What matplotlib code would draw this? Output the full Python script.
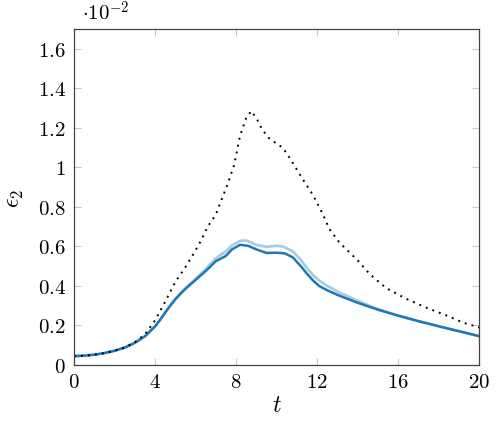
import matplotlib
matplotlib.use('Agg')
import matplotlib.pyplot as plt

plt.rcParams['mathtext.fontset'] = 'cm'
plt.rcParams['font.family'] = 'serif'
plt.rcParams['font.serif'] = ['cmr10', 'DejaVu Serif']

# epsilon_2 values, in units of 1e-2
t_dark = [0, 0.5, 1, 1.5, 2, 2.5, 3, 3.5, 4, 4.25, 4.5, 4.75, 5, 5.25, 5.5, 6, 6.5, 7,
          7.5, 7.8, 8.2, 8.6, 9, 9.5, 10, 10.4, 10.8, 11.2, 11.5, 11.8, 12.1, 12.5, 13,
          14, 15, 16, 17, 18, 19, 20]
eps_dark = [0.045, 0.047, 0.052, 0.06, 0.072, 0.088, 0.112, 0.145, 0.195, 0.228, 0.265,
            0.3, 0.332, 0.36, 0.385, 0.43, 0.475, 0.525, 0.552, 0.585, 0.608, 0.603, 0.585,
            0.567, 0.568, 0.565, 0.545, 0.5, 0.462, 0.428, 0.4, 0.378, 0.355, 0.315, 0.28,
            0.25, 0.222, 0.196, 0.171, 0.146]

t_light = [0, 0.5, 1, 1.5, 2, 2.5, 3, 3.5, 4, 4.25, 4.5, 4.75, 5, 5.25, 5.5, 6, 6.5, 7,
           7.5, 7.8, 8.2, 8.5, 9, 9.5, 10, 10.3, 10.8, 11.2, 11.5, 11.8, 12.1, 12.5, 13,
           14, 15, 16, 17, 18, 19, 20]
eps_light = [0.045, 0.047, 0.052, 0.06, 0.072, 0.088, 0.112, 0.145, 0.195, 0.228, 0.265,
             0.3, 0.332, 0.362, 0.388, 0.435, 0.485, 0.54, 0.575, 0.605, 0.628, 0.63, 0.608,
             0.598, 0.603, 0.6, 0.575, 0.532, 0.49, 0.455, 0.428, 0.4, 0.372, 0.325, 0.283,
             0.25, 0.222, 0.196, 0.171, 0.146]

t_dot = [0, 0.5, 1, 1.5, 2, 2.5, 3, 3.5, 4, 4.5, 5, 5.5, 6, 6.3, 6.6, 7, 7.3, 7.6, 7.9,
         8.2, 8.5, 8.75, 9, 9.3, 9.6, 10, 10.3, 10.7, 11.2, 11.8, 12.3, 12.6, 13.1, 14,
         14.6, 15.4, 16.4, 17.4, 18.4, 19.2, 20]
eps_dot = [0.045, 0.047, 0.052, 0.06, 0.072, 0.088, 0.115, 0.155, 0.225, 0.32, 0.42, 0.495,
           0.58, 0.635, 0.7, 0.76, 0.84, 0.92, 1.01, 1.16, 1.25, 1.285, 1.25, 1.19, 1.15,
           1.12, 1.1, 1.04, 0.955, 0.86, 0.76, 0.69, 0.62, 0.53, 0.46, 0.39, 0.335, 0.29,
           0.25, 0.215, 0.19]

xticks = [0, 4, 8, 12, 16, 20]
yticks = [0, 0.2, 0.4, 0.6, 0.8, 1.0, 1.2, 1.4, 1.6]
ylabels = ['0', '0.2', '0.4', '0.6', '0.8', '1', '1.2', '1.4', '1.6']

fig = plt.figure(figsize=(4.98, 4.27), dpi=100)
ax = fig.add_axes([0.1486, 0.1429, 0.8134, 0.7868])

ax.plot(t_light, eps_light, color='#a6cee3', lw=2.0, solid_joinstyle='round')
ax.plot(t_dark, eps_dark, color='#1f78b4', lw=1.8, solid_joinstyle='round')
ax.plot(t_dot, eps_dot, color='black', lw=1.4, linestyle=(0, (1, 2.6)))

ax.set_xlim(0, 20)
ax.set_ylim(0, 1.7)
ax.set_xticks(xticks)
ax.set_xticklabels(['$%d$' % v for v in xticks])
ax.set_yticks(yticks)
ax.set_yticklabels(['$%s$' % s for s in ylabels])
ax.tick_params(direction='in', length=5, width=0.8, color='#c8c8c8',
               top=True, right=True, labelsize=15, pad=6)
for s in ax.spines.values():
    s.set_color('#444444')
    s.set_linewidth(0.9)

ax.set_xlabel('$t$', fontsize=17, labelpad=2)
ax.set_ylabel(r'$\epsilon_2$', fontsize=17, labelpad=8)
ax.annotate(r'$\cdot 10^{-2}$', xy=(0, 1), xycoords='axes fraction',
            xytext=(6, 4), textcoords='offset points', fontsize=15,
            ha='left', va='bottom')

fig.savefig('out.png', dpi=100)
